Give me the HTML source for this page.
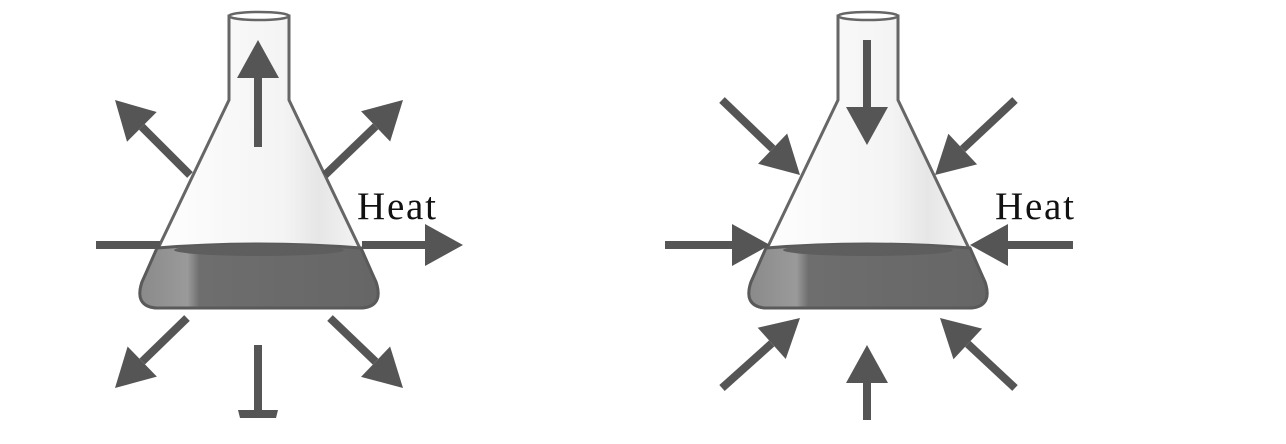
<!DOCTYPE html>
<html><head><meta charset="utf-8"><style>
html,body{margin:0;padding:0;background:#fff;width:1286px;height:444px;overflow:hidden}
</style></head><body>
<svg width="1286" height="444" viewBox="0 0 1286 444">
<defs>
<linearGradient id="liq" x1="0" x2="1" y1="0" y2="0">
<stop offset="0" stop-color="#8a8a8a"/><stop offset="0.2" stop-color="#9a9a9a"/><stop offset="0.25" stop-color="#6e6e6e"/><stop offset="1" stop-color="#666"/>
</linearGradient>
<linearGradient id="glass" x1="0" x2="1" y1="0" y2="0">
<stop offset="0" stop-color="#fff"/><stop offset="0.6" stop-color="#f4f4f4"/><stop offset="0.75" stop-color="#e6e6e6"/><stop offset="1" stop-color="#fafafa"/>
</linearGradient>
</defs>
<g id="flasks"></g>
<text x="357" y="219" font-family="Liberation Serif, serif" font-size="39" fill="#111" textLength="79">Heat</text>
<text x="995" y="219" font-family="Liberation Serif, serif" font-size="39" fill="#111" textLength="79">Heat</text>
</svg>
<script>
const NS='http://www.w3.org/2000/svg';
const root=document.getElementById('flasks');
function mk(tag,attrs,parent){const e=document.createElementNS(NS,tag);for(const k in attrs)e.setAttribute(k,attrs[k]);(parent||root).appendChild(e);return e;}
function flask(ox,name){
  const g=mk('g',{transform:'translate('+ox+',0)'});
  
  
  mk('path',{d:'M229,100 L229,16 L289,16 L289,100 L376,282 Q384,306 362,308 L156,308 Q134,306 142,282 Z',fill:'url(#glass)',stroke:'#666','stroke-width':3},g);
  mk('path',{d:'M157,248 Q258,240 361,248 L376,282 Q384,306 362,308 L156,308 Q134,306 142,282 Z',fill:'url(#liq)',stroke:'#5a5a5a','stroke-width':3},g);
  mk('ellipse',{cx:259,cy:250,rx:85,ry:6,fill:'#5e5e5e'},g);
  mk('ellipse',{cx:259,cy:16,rx:30,ry:4,fill:'#fff',stroke:'#666','stroke-width':2.5},g);
}
function arrow(x1,y1,x2,y2,name){
  const dx=x2-x1,dy=y2-y1,L=Math.hypot(dx,dy),ux=dx/L,uy=dy/L,hl=38,hw=21;
  const bx=x2-ux*hl,by=y2-uy*hl;
  const g=mk('g',{});
  
  
  mk('line',{x1:x1,y1:y1,x2:bx,y2:by,stroke:'#555','stroke-width':8},g);
  mk('polygon',{points:`${x2},${y2} ${bx-uy*hw},${by+ux*hw} ${bx+uy*hw},${by-ux*hw}`,fill:'#555'},g);
}
flask(0,'flask-left');
flask(609,'flask-right');
arrow(258,147,258,40,'arrow-out-up');
arrow(190,175,115,100,'arrow-out-upleft');
arrow(325,175,403,100,'arrow-out-upright');
mk('line',{x1:96,y1:245,x2:160,y2:245,stroke:'#555','stroke-width':8});
arrow(362,245,463,245,'arrow-out-right');
arrow(187,318,115,388,'arrow-out-downleft');
arrow(330,318,403,388,'arrow-out-downright');
mk('line',{x1:258,y1:345,x2:258,y2:412,stroke:'#555','stroke-width':8});
mk('path',{d:'M238,410 L278,410 L276,418 L240,418 Z',fill:'#555'});
arrow(867,40,867,145,'arrow-in-down');
arrow(722,100,800,175,'arrow-in-upleft');
arrow(1015,100,935,175,'arrow-in-upright');
arrow(665,245,770,245,'arrow-in-left');
arrow(1073,245,970,245,'arrow-in-right');
arrow(722,388,800,318,'arrow-in-downleft');
arrow(1015,388,940,318,'arrow-in-downright');
arrow(867,420,867,345,'arrow-in-up');
</script>
</body></html>
